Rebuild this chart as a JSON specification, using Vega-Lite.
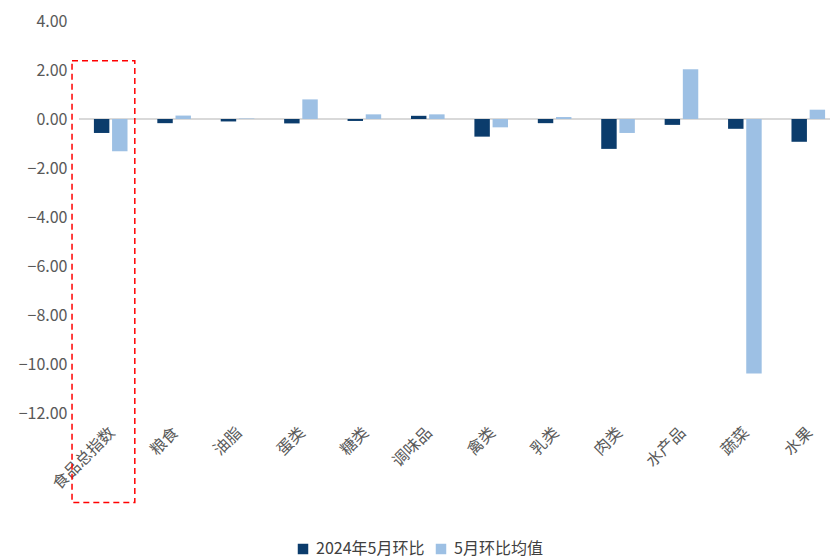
{
  "$schema": "https://vega.github.io/schema/vega-lite/v6.json",
  "width": 761,
  "height": 392,
  "autosize": "none",
  "padding": {"left": 79, "top": 21, "right": 0, "bottom": 145},
  "background": "white",
  "config": {
    "view": {"stroke": null},
    "font": "Noto Sans CJK SC"
  },
  "datasets": {
    "bars": [
      {"cat": "食品总指数", "series": "2024年5月环比", "value": -0.57},
      {"cat": "食品总指数", "series": "5月环比均值", "value": -1.32},
      {"cat": "粮食", "series": "2024年5月环比", "value": -0.17},
      {"cat": "粮食", "series": "5月环比均值", "value": 0.14},
      {"cat": "油脂", "series": "2024年5月环比", "value": -0.1},
      {"cat": "油脂", "series": "5月环比均值", "value": 0.02},
      {"cat": "蛋类", "series": "2024年5月环比", "value": -0.18},
      {"cat": "蛋类", "series": "5月环比均值", "value": 0.8},
      {"cat": "糖类", "series": "2024年5月环比", "value": -0.08},
      {"cat": "糖类", "series": "5月环比均值", "value": 0.19},
      {"cat": "调味品", "series": "2024年5月环比", "value": 0.13},
      {"cat": "调味品", "series": "5月环比均值", "value": 0.19},
      {"cat": "禽类", "series": "2024年5月环比", "value": -0.72},
      {"cat": "禽类", "series": "5月环比均值", "value": -0.34},
      {"cat": "乳类", "series": "2024年5月环比", "value": -0.17},
      {"cat": "乳类", "series": "5月环比均值", "value": 0.08},
      {"cat": "肉类", "series": "2024年5月环比", "value": -1.22},
      {"cat": "肉类", "series": "5月环比均值", "value": -0.57},
      {"cat": "水产品", "series": "2024年5月环比", "value": -0.24},
      {"cat": "水产品", "series": "5月环比均值", "value": 2.03},
      {"cat": "蔬菜", "series": "2024年5月环比", "value": -0.4},
      {"cat": "蔬菜", "series": "5月环比均值", "value": -10.39},
      {"cat": "水果", "series": "2024年5月环比", "value": -0.93},
      {"cat": "水果", "series": "5月环比均值", "value": 0.38}
    ],
    "box": [
      {"x0": -0.11, "x1": 0.88, "y0": 2.38, "y1": -15.65}
    ]
  },
  "layer": [
    {
      "data": {"values": [{"zero": 0}]},
      "mark": {"type": "rule", "color": "#d9d9d9", "strokeWidth": 2},
      "encoding": {
        "y": {"field": "zero", "type": "quantitative", "scale": {"domain": [-12, 4], "nice": false}}
      }
    },
    {
      "data": {"name": "bars"},
      "mark": {"type": "bar"},
      "encoding": {
        "x": {
          "field": "cat",
          "type": "nominal",
          "sort": null,
          "scale": {"paddingInner": 0.47, "paddingOuter": 0.235},
          "axis": {
            "title": null,
            "orient": "bottom",
            "domain": false,
            "ticks": false,
            "labelAngle": -45,
            "labelFontSize": 16,
            "labelColor": "#595959",
            "labelPadding": 11,
            "labelOffset": -4
          }
        },
        "xOffset": {"field": "series", "type": "nominal", "sort": null, "scale": {"paddingInner": 0.15}},
        "y": {
          "field": "value",
          "type": "quantitative",
          "scale": {"domain": [-12, 4], "nice": false},
          "axis": {
            "title": null,
            "values": [-12, -10, -8, -6, -4, -2, 0, 2, 4],
            "format": ".2f",
            "domain": false,
            "ticks": false,
            "grid": false,
            "labelFontSize": 16,
            "labelColor": "#595959",
            "labelPadding": 12
          }
        },
        "color": {
          "field": "series",
          "type": "nominal",
          "sort": null,
          "scale": {"domain": ["2024年5月环比", "5月环比均值"], "range": ["#0b3c6c", "#9dc0e4"]},
          "legend": {
            "title": null,
            "orient": "none",
            "direction": "horizontal",
            "legendX": 216,
            "legendY": 520,
            "symbolType": "square",
            "symbolSize": 110,
            "symbolStrokeWidth": 0,
            "labelFontSize": 16,
            "labelColor": "#404040",
            "columnPadding": 8,
            "labelOffset": 5
          }
        }
      }
    },
    {
      "data": {"name": "box"},
      "mark": {"type": "rect", "filled": false, "stroke": "#ff0000", "strokeWidth": 1.5, "strokeDash": [6, 4], "clip": false},
      "encoding": {
        "x": {"field": "x0", "type": "quantitative", "scale": {"domain": [0, 12], "nice": false, "zero": false}, "axis": null},
        "x2": {"field": "x1"},
        "y": {"field": "y0", "type": "quantitative", "scale": {"domain": [-12, 4], "nice": false}},
        "y2": {"field": "y1"}
      }
    }
  ],
  "resolve": {"scale": {"x": "independent"}, "axis": {"x": "independent"}}
}
